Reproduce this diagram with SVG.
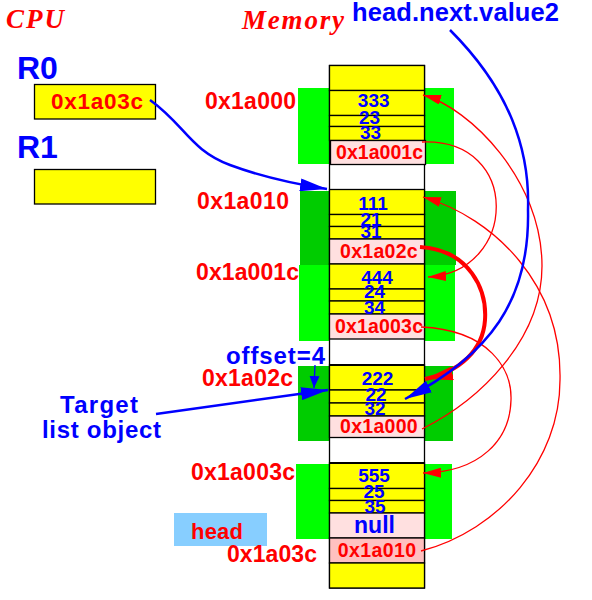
<svg xmlns="http://www.w3.org/2000/svg" width="592" height="600" viewBox="0 0 592 600">
<style>
.lab{font-family:"Liberation Sans",Arial,sans-serif;font-weight:bold;}
.red{fill:#ff0000;}
.blue{fill:#0000ff;}
.ttl{font-family:"Liberation Serif","Times New Roman",serif;font-weight:bold;font-style:italic;fill:#ff0000;font-size:27px;}
.addr{font-size:23px;}
.paddr{font-size:19.5px;}
.num{font-size:19px;text-anchor:middle;}
.y{fill:#ffff00;stroke:#000;stroke-width:1.3;}
.p{fill:#ffe0e0;stroke:#000;stroke-width:1.3;}
.p2{fill:#ffc0c0;stroke:#000;stroke-width:1.3;}
.w{fill:#ffffff;stroke:#000;stroke-width:1.3;}
.g1{fill:#00ff00;}
.g2{fill:#00cc00;}
.rl{fill:none;stroke:#ff0000;stroke-width:1.3;}
.rt{fill:none;stroke:#ff0000;stroke-width:4;}
.bl{fill:none;stroke:#0000ff;stroke-width:2.5;}
.bt{fill:none;stroke:#0000ff;stroke-width:1.3;}
</style>
<defs>
<marker id="ar" markerUnits="userSpaceOnUse" markerWidth="18" markerHeight="10" viewBox="0 0 18 10" refX="18" refY="5" orient="auto"><path d="M0,0 L18,5 L0,10 z" fill="#ff0000"/></marker>
<marker id="art" markerUnits="userSpaceOnUse" markerWidth="28" markerHeight="14" viewBox="0 0 28 14" refX="28" refY="7" orient="auto"><path d="M0,0 L28,7 L0,14 z" fill="#ff0000"/></marker>
<marker id="ab" markerUnits="userSpaceOnUse" markerWidth="27" markerHeight="13" viewBox="0 0 27 13" refX="27" refY="6.5" orient="auto"><path d="M0,0 L27,6.5 L0,13 z" fill="#0000ff"/></marker>
<marker id="abs" markerUnits="userSpaceOnUse" markerWidth="12" markerHeight="10" viewBox="0 0 12 10" refX="12" refY="5" orient="auto"><path d="M0,0 L12,5 L0,10 z" fill="#0000ff"/></marker>
</defs>

<g id="titles">
<text class="ttl" x="6" y="28" textLength="58">CPU</text>
<text class="ttl" x="242" y="29" textLength="102">Memory</text>
<text class="lab blue" x="352" y="21" font-size="25.5" textLength="207">head.next.value2</text>
</g>

<g id="R0">
<text class="lab blue" x="17" y="79" font-size="32">R0</text>
<rect x="34.5" y="84.5" width="121" height="34.5" fill="#ffff00" stroke="#000" stroke-width="1.3"/>
<text class="lab red" x="51" y="109" font-size="22.5" textLength="92">0x1a03c</text>
</g>
<g id="R1">
<text class="lab blue" x="17" y="158" font-size="32">R1</text>
<rect x="34.5" y="169.5" width="121" height="34.5" fill="#ffff00" stroke="#000" stroke-width="1.3"/>
</g>

<g id="obj-0x1a000">
<rect class="g1" x="298" y="88" width="156" height="76"/>
<text class="lab red addr" x="205" y="109" textLength="91">0x1a000</text>
</g>
<g id="obj-0x1a010">
<rect class="g2" x="300" y="191" width="156" height="74"/>
<text class="lab red addr" x="197" y="209" textLength="92">0x1a010</text>
</g>
<g id="obj-0x1a001c">
<rect class="g1" x="299" y="265" width="156" height="76"/>
<text class="lab red addr" x="196" y="280" textLength="103">0x1a001c</text>
</g>
<g id="obj-0x1a02c">
<rect class="g2" x="298" y="366" width="155" height="75"/>
<text class="lab red addr" x="202" y="386" textLength="91">0x1a02c</text>
</g>
<g id="obj-0x1a003c">
<rect class="g1" x="296" y="464" width="156" height="75"/>
<text class="lab red addr" x="191" y="480" textLength="104">0x1a003c</text>
</g>

<g id="memory">
<rect class="w" x="329.5" y="65.5" width="95" height="522.5"/>
<rect class="y" x="329.5" y="65.5" width="95" height="25"/>
<rect class="y" x="329.5" y="90.5" width="95" height="25"/>
<rect class="y" x="329.5" y="115.5" width="95" height="11"/>
<rect class="y" x="329.5" y="126.5" width="95" height="14"/>
<rect class="p" x="330.5" y="140.5" width="95" height="24"/>
<rect class="y" x="329.5" y="189.5" width="95" height="25"/>
<rect class="y" x="329.5" y="214.5" width="95" height="12"/>
<rect class="y" x="329.5" y="226.5" width="95" height="12.5"/>
<rect class="p" x="329.5" y="239" width="95" height="25"/>
<rect class="y" x="329.5" y="264" width="95" height="25"/>
<rect class="y" x="329.5" y="289" width="95" height="12"/>
<rect class="y" x="329.5" y="301" width="95" height="13"/>
<rect class="p" x="329.5" y="314" width="95" height="25"/>
<rect class="y" x="329.5" y="365" width="95" height="25"/>
<rect class="y" x="329.5" y="390" width="95" height="13"/>
<rect class="y" x="329.5" y="403" width="95" height="13"/>
<rect class="p" x="329.5" y="416" width="95" height="21.5"/>
<rect class="y" x="329.5" y="463" width="95" height="25.5"/>
<rect class="y" x="329.5" y="488.5" width="95" height="12"/>
<rect class="y" x="329.5" y="500.5" width="95" height="12.5"/>
<rect class="p" x="329.5" y="513" width="95" height="25"/>
<rect class="p2" x="329.5" y="538" width="95" height="25"/>
<rect class="y" x="329.5" y="563" width="95" height="25"/>
<line x1="329.5" y1="365" x2="424.5" y2="365" stroke="#000" stroke-width="2"/>
<line x1="329.5" y1="463" x2="424.5" y2="463" stroke="#000" stroke-width="2"/>

<text class="lab blue num" x="373.7" y="107.3">333</text>
<text class="lab blue num" x="369.5" y="124.3">23</text>
<text class="lab blue num" x="370.5" y="139.3">33</text>
<text class="lab red paddr" x="336" y="159" textLength="87">0x1a001c</text>

<text class="lab blue num" x="373" y="210">111</text>
<text class="lab blue num" x="371" y="225.7">21</text>
<text class="lab blue num" x="371" y="238.3">31</text>
<text class="lab red paddr" x="340" y="258.3" textLength="77.7">0x1a02c</text>

<text class="lab blue num" x="377" y="284.3">444</text>
<text class="lab blue num" x="374.5" y="298.3">24</text>
<text class="lab blue num" x="374.5" y="314.3">34</text>
<text class="lab red paddr" x="335" y="332.7" textLength="88">0x1a003c</text>

<text class="lab blue num" x="377.5" y="385">222</text>
<text class="lab blue num" x="376" y="401">22</text>
<text class="lab blue num" x="375" y="415">32</text>
<text class="lab red paddr" x="340" y="433.3" textLength="77.7">0x1a000</text>

<text class="lab blue num" x="374" y="482.3">555</text>
<text class="lab blue num" x="374" y="498.3">25</text>
<text class="lab blue num" x="375" y="513.3">35</text>
<text class="lab blue" x="374.5" y="533.3" font-size="23" text-anchor="middle">null</text>
<text class="lab red paddr" x="337.7" y="556.7" textLength="78.3">0x1a010</text>
</g>

<g id="head">
<rect x="174" y="513" width="93" height="33" fill="#87ceff"/>
<text class="lab red" x="191" y="539" font-size="22" textLength="52">head</text>
<text class="lab red addr" x="227" y="562" textLength="90">0x1a03c</text>
</g>

<g id="target-labels">
<text class="lab blue" x="226" y="364" font-size="24" textLength="99">offset=4</text>
<text class="lab blue" x="60" y="413" font-size="24" textLength="78">Target</text>
<text class="lab blue" x="42" y="438" font-size="24" textLength="119">list object</text>
</g>

<g id="connectors">
<path class="rl" d="M422,142 C522,138 518,272 428,277" marker-end="url(#ar)"/>
<path class="rl" d="M422,429 C480,400 542,340 542,266 C542,180 470,108 423,95" marker-end="url(#ar)"/>
<path class="rl" d="M421,551 C500,530 560,460 560,380 C562,285 495,218 423,197" marker-end="url(#ar)"/>
<path class="rl" d="M421,327 C490,330 512,370 511,400 C510,440 480,472 423,473" marker-end="url(#ar)"/>
<path class="rt" d="M420,247 C470,250 487,290 485,320 C483,350 460,372 425,379" marker-end="url(#art)"/>
<path class="bl" d="M450,30 C510,90 530,150 528,210 C530,300 490,355 405,399" marker-end="url(#ab)"/>
<path class="bl" d="M150,100 C185,125 190,150 230,165 C265,178 295,184 327,189" marker-end="url(#ab)"/>
<path class="bl" d="M156,414 L328,390" marker-end="url(#ab)"/>
<path class="bt" d="M315,365 L314,388" marker-end="url(#abs)"/>
</g>
</svg>
